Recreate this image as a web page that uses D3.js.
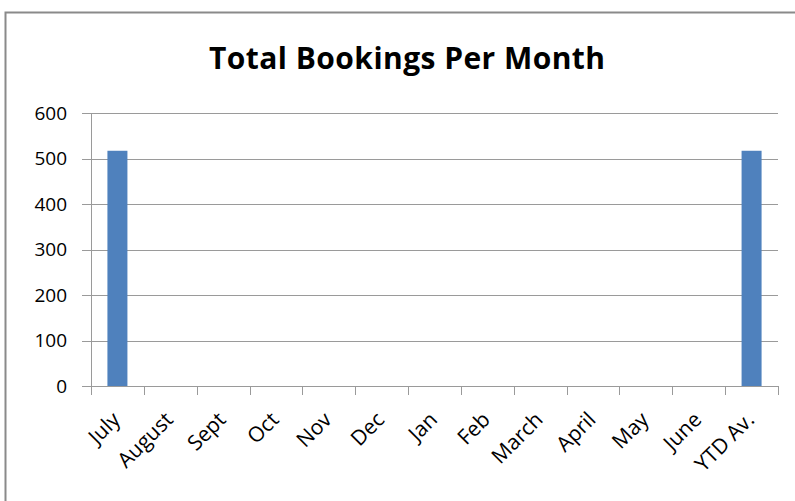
<!DOCTYPE html>
<html>
<head>
<meta charset="utf-8">
<script src="https://cdn.jsdelivr.net/npm/d3@7"></script>
<style>
  body { margin: 0; background: #fff; }
  text { font-family: "Open Sans", "Noto Sans", sans-serif; fill: #000; }
</style>
</head>
<body>
<svg id="chart"></svg>
<script>
const months = ["July","August","Sept","Oct","Nov","Dec","Jan","Feb","March","April","May","June","YTD Av."];
const bookings = [517,0,0,0,0,0,0,0,0,0,0,0,517];
const yTicks = [0,100,200,300,400,500,600];

const W = 795, H = 501;
const plotL = 91, plotR = 778, plotT = 113, plotB = 386;

const svg = d3.select("#chart").attr("width", W).attr("height", H);

// outer frame
svg.append("rect")
    .attr("x", 5.5).attr("y", 12.5)
    .attr("width", W + 10).attr("height", H + 10)
    .attr("fill", "none").attr("stroke", "#8a8a8a").attr("stroke-width", 2);

svg.append("text")
    .attr("x", 407).attr("y", 69)
    .attr("text-anchor", "middle")
    .attr("font-size", "30px")
    .attr("font-weight", "bold")
    .attr("textLength", 396)
    .attr("lengthAdjust", "spacing")
    .text("Total Bookings Per Month");

const x = d3.scaleBand().domain(months).range([plotL, plotR]);
const y = d3.scaleLinear().domain([0, 600]).range([plotB, plotT]);

// gridlines + y ticks
svg.append("g").selectAll("line").data(yTicks).join("line")
    .attr("x1", plotL - 9).attr("x2", plotR)
    .attr("y1", d => Math.round(y(d)) + 0.5).attr("y2", d => Math.round(y(d)) + 0.5)
    .attr("stroke", "#9a9a9a").attr("stroke-width", 1);

svg.append("g").selectAll("text").data(yTicks).join("text")
    .attr("x", 67).attr("y", d => y(d))
    .attr("dy", "0.35em")
    .attr("text-anchor", "end")
    .attr("font-size", "19px")
    .text(d => d);

// y axis line
svg.append("line")
    .attr("x1", plotL + 0.5).attr("x2", plotL + 0.5)
    .attr("y1", plotT).attr("y2", plotB + 9)
    .attr("stroke", "#9a9a9a");

// category ticks
const bounds = months.map(m => x(m)).concat([plotR]);
svg.append("g").selectAll("line").data(bounds).join("line")
    .attr("x1", d => Math.round(d) + 0.5).attr("x2", d => Math.round(d) + 0.5)
    .attr("y1", plotB).attr("y2", plotB + 9)
    .attr("stroke", "#9a9a9a");

// bars
const bw = 20;
svg.append("g").selectAll("rect").data(months).join("rect")
    .attr("x", (d, i) => x(d) + x.bandwidth() / 2 - bw / 2)
    .attr("y", (d, i) => y(bookings[i]))
    .attr("width", bw)
    .attr("height", (d, i) => y(0) - y(bookings[i]))
    .attr("fill", "#4f81bd");

// x labels
svg.append("g").selectAll("text").data(months).join("text")
    .attr("transform", d => `translate(${x(d) + x.bandwidth() / 2 + 4},${plotB + 35}) rotate(-45)`)
    .attr("text-anchor", "end")
    .attr("font-size", "21px")
    .text(d => d);
</script>
</body>
</html>
